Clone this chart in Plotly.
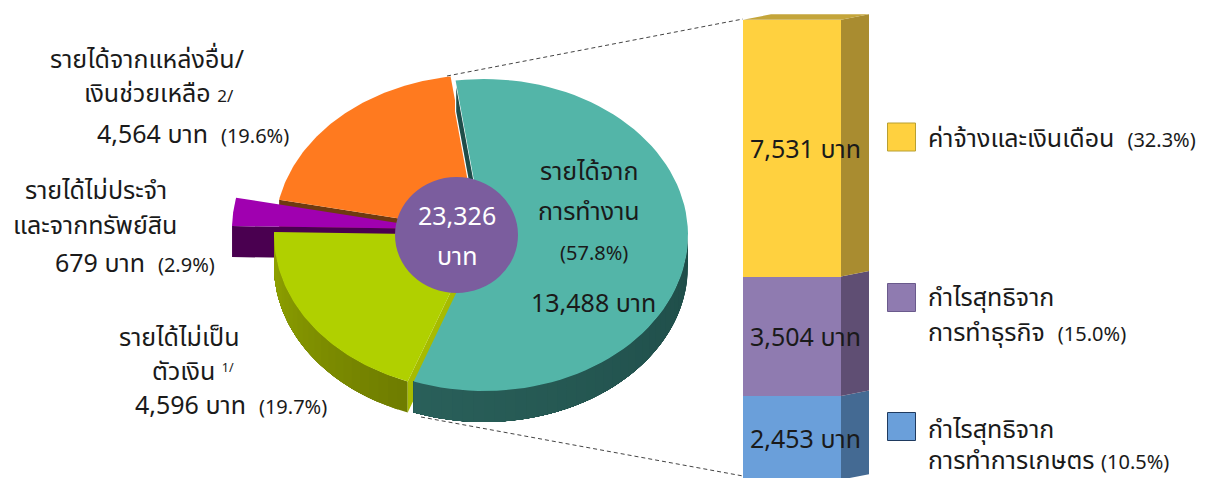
"""โครงสร้างรายได้ครัวเรือน: วงกลมสามมิติ + แท่งซ้อน"""
import numpy as np
import plotly.graph_objects as go

# ข้อมูล
slice_names = ["การทำงาน", "ไม่เป็นตัวเงิน", "ไม่ประจำ", "แหล่งอื่น"]
slice_values = [13488, 4596, 679, 4564]
total_income = "23,326"
bar_names = ["การทำการเกษตร", "การทำธุรกิจ", "ค่าจ้าง"]
bar_values = [2453, 3504, 7531]
bar_labels = ["2,453 บาท", "3,504 บาท", "7,531 บาท"]

W, H = 1214, 478
FONT = "Noto Sans Thai, Noto Sans, Tahoma, DejaVu Sans, sans-serif"
TEXT = "#1a1a1a"
RX, RY, DEPTH = 204, 156, 31
START = -8

# จุดศูนย์กลางแต่ละชิ้น (ชิ้นถูกดึงออกจากกัน)
centers = [(484, 235), (478, 235), (436, 229), (479, 231)]
tops = ["#53b5a8", "#b0d000", "#a000b0", "#ff7a1f"]
faces = ["#1f4d49", "#a6bb00", "#4a0050", "#6e3a10"]

fig = go.Figure()


def poly(xs, ys, color, line=None, yaxis="y"):
    outline = dict(color=line, width=1.2) if line else dict(width=0)
    fig.add_trace(go.Scatter(x=list(xs), y=list(ys), mode="lines", fill="toself", fillcolor=color,
                             line=outline, hoverinfo="skip", showlegend=False, yaxis=yaxis))


def arc(c, a0, a1, n=80):
    t = np.radians(np.linspace(a0, a1, n))
    return c[0] + RX * np.sin(t), c[1] - RY * np.cos(t)


def mix(a, b, k):
    a, b = np.array(a), np.array(b)
    r = a + (b - a) * k
    return "rgb(%d,%d,%d)" % tuple(r)


def wall(c, a0, a1, col0, col1, step=3):
    # ผนังด้านนอก ไล่สีทีละช่วง แต่ละช่วงทับกันเพื่อไม่ให้เห็นรอยต่อ
    edges = np.arange(a0, a1, step)
    for i, e in enumerate(edges):
        x, y = arc(c, e, a1, 60)
        poly(np.r_[x, x[::-1]], np.r_[y, y[::-1] + DEPTH], mix(col0, col1, i / max(len(edges) - 1, 1)))


fractions = np.array(slice_values) / sum(slice_values) * 360
angles = START + np.r_[0, np.cumsum(fractions)]
a = {i: (angles[i], angles[i + 1]) for i in range(4)}


def sector(i):
    x, y = arc(centers[i], *a[i])
    poly(np.r_[centers[i][0], x], np.r_[centers[i][1], y], tops[i])


def cut_face(i, angle, line=None):
    x, y = arc(centers[i], angle, angle, 1)
    cx, cy = centers[i]
    poly([cx, x[0], x[0], cx], [cy, y[0], y[0] + DEPTH, cy + DEPTH], faces[i], line)


# เส้นประเชื่อมไปยังแท่ง
for xs, ys in (([447, 743], [76, 19]), ([421, 743], [417, 476])):
    fig.add_trace(go.Scatter(x=xs, y=ys, mode="lines", hoverinfo="skip", showlegend=False,
                             line=dict(color="#444444", width=1, dash="4px,3px")))

# วาดจากหลังมาหน้า
cut_face(3, a[3][0])
sector(3)
cut_face(2, a[2][0])
sector(2)
wall(centers[1], a[1][0], a[1][1], (0x6f, 0x7d, 0x00), (0x92, 0xa5, 0x00))
cut_face(1, a[1][0])
sector(1)
cut_face(0, a[0][0], "#ffffff")
wall(centers[0], 90, a[0][1], (0x1f, 0x4d, 0x49), (0x2a, 0x60, 0x5a))
sector(0)

# แท่งซ้อน: แกน y2 เป็นหน่วยบาท
PX_PER_BAHT = 0.0341
BAR_BASE = 479.7
BAR_L, BAR_R, SIDE, RISE = 743, 841, 28, 5.5
y2_range = [(BAR_BASE - H) / PX_PER_BAHT, BAR_BASE / PX_PER_BAHT]
rise_v = RISE / PX_PER_BAHT
bar_colors = ["#6a9fda", "#8f7bb0", "#ffd13f"]
side_colors = ["#446a93", "#5f4e73", "#a98c30"]
cum = np.r_[0, np.cumsum(bar_values)]
for i, name in enumerate(bar_names):
    fig.add_trace(go.Bar(x=[(BAR_L + BAR_R) / 2], y=[bar_values[i]], width=[BAR_R - BAR_L], name=name,
                         marker=dict(color=bar_colors[i], line=dict(width=0)), hoverinfo="skip",
                         showlegend=False, yaxis="y2"))
    poly([BAR_R, BAR_R + SIDE, BAR_R + SIDE, BAR_R],
         [cum[i], cum[i] + rise_v, cum[i + 1] + rise_v, cum[i + 1]], side_colors[i], yaxis="y2")
poly([BAR_L, BAR_R, BAR_R + SIDE, BAR_L + SIDE], [cum[3], cum[3], cum[3] + rise_v, cum[3] + rise_v],
     "#c4a53a", yaxis="y2")

# สี่เหลี่ยมคำอธิบาย
fig.add_trace(go.Scatter(x=[901.5, 901.5, 901.5], y=[137, 297.5, 426.5], mode="markers", hoverinfo="skip",
                         showlegend=False,
                         marker=dict(symbol="square", size=28, color=bar_colors[::-1],
                                     line=dict(color=["#b8a032", "#6a5a8c", "#1f3a5f"], width=1))))


def note(x, y, text, size=25, anchor="center", color=TEXT, yref="y"):
    fig.add_annotation(x=x, y=y, text=text, xref="x", yref=yref, showarrow=False, xanchor=anchor,
                       yanchor="middle", font=dict(family=FONT, size=size, color=color))


pct = 'style="font-size:20px"'
note(147, 60, "รายได้จากแหล่งอื่น/")
note(159, 94, 'เงินช่วยเหลือ <span style="font-size:17px">2/</span>')
note(193, 135, f"4,564 บาท  <span {pct}>(19.6%)</span>")
note(96, 191, "รายได้ไม่ประจำ")
note(95, 226, "และจากทรัพย์สิน")
note(135, 264, f"679 บาท  <span {pct}>(2.9%)</span>")
note(179, 338, "รายได้ไม่เป็น")
note(193, 372, 'ตัวเงิน <span style="font-size:18px"><sup>1/</sup></span>')
note(231, 406, f"4,596 บาท  <span {pct}>(19.7%)</span>")
note(589, 172, "รายได้จาก")
note(589, 212, "การทำงาน")
note(594, 254, '(57.8%)', size=20)
note(593, 304, "13,488 บาท")
note(457, 217, total_income, color="#ffffff")
note(457, 257, "บาท", color="#ffffff")

for i in range(3):
    note(805, (cum[i] + cum[i + 1]) / 2 - 50, bar_labels[i], yref="y2")

note(926, 139, f"ค่าจ้างและเงินเดือน  <span {pct}>(32.3%)</span>", anchor="left")
note(926, 298, "กำไรสุทธิจาก", anchor="left")
note(926, 333, f"การทำธุรกิจ  <span {pct}>(15.0%)</span>", anchor="left")
note(926, 430, "กำไรสุทธิจาก", anchor="left")
note(926, 461, f"การทำการเกษตร <span {pct}>(10.5%)</span>", anchor="left")

fig.update_layout(
    width=W, height=H, margin=dict(l=0, r=0, t=0, b=0), paper_bgcolor="white", plot_bgcolor="white",
    barmode="stack", showlegend=False,
    xaxis=dict(range=[0, W], visible=False, fixedrange=True),
    yaxis=dict(range=[H, 0], visible=False, fixedrange=True),
    yaxis2=dict(range=y2_range, visible=False, overlaying="y", fixedrange=True),
    shapes=[dict(type="circle", xref="x", yref="y", x0=395, x1=518, y0=177, y1=293,
                 fillcolor="#7b5d9e", line=dict(width=0), layer="above")],
)
fig.write_html("out.html", post_script="document.body.style.margin='0';", config={"displayModeBar": False})
